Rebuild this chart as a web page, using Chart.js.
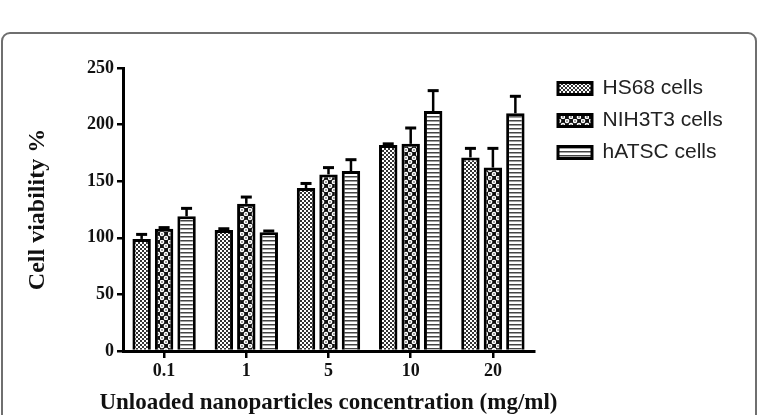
<!DOCTYPE html>
<html><head><meta charset="utf-8">
<script src="https://cdn.jsdelivr.net/npm/chart.js@4/dist/chart.umd.min.js"></script>
<style>
html,body{margin:0;padding:0;background:#fff;width:758px;height:415px;overflow:hidden;}
#frame{position:absolute;left:1px;top:32px;width:756px;height:420px;border:2px solid #6f6f6f;border-radius:9px;box-sizing:border-box;}
#wrap{position:absolute;left:0;top:0;width:758px;height:415px;}
</style></head>
<body>
<div id="frame"></div>
<div id="wrap"><canvas id="c" width="758" height="415"></canvas></div>
<script>
const categories = ['0.1', '1', '5', '10', '20'];
const seriesNames = ['HS68 cells', 'NIH3T3 cells', 'hATSC cells'];
const hs68 = [99, 107, 144, 182, 171];
const hs68Err = [4, 1, 4, 1, 8];
const nih3t3 = [108, 130, 156, 183, 162];
const nih3t3Err = [1, 6, 6, 14, 17];
const hatsc = [119, 105, 159, 212, 210];
const hatscErr = [7, 1, 10, 18, 15];
const yTicks = [0, 50, 100, 150, 200, 250];

function makePattern(kind) {
  const t = document.createElement('canvas');
  const g = t.getContext('2d');
  if (kind === 'fine') {
    t.width = 4; t.height = 4;
    g.fillStyle = '#fff'; g.fillRect(0, 0, 4, 4);
    g.fillStyle = '#333'; g.fillRect(0, 0, 2, 2); g.fillRect(2, 2, 2, 2);
  } else if (kind === 'circles') {
    t.width = 8; t.height = 8;
    g.fillStyle = '#111'; g.fillRect(0, 0, 8, 8);
    g.fillStyle = '#fff';
    g.beginPath(); g.arc(2, 2, 2.3, 0, Math.PI * 2); g.fill();
    g.beginPath(); g.arc(6, 6, 2.3, 0, Math.PI * 2); g.fill();
    g.fillStyle = '#333';
    g.beginPath(); g.arc(2, 2, 0.8, 0, Math.PI * 2); g.fill();
    g.beginPath(); g.arc(6, 6, 0.8, 0, Math.PI * 2); g.fill();
  } else {
    t.width = 4; t.height = 4;
    g.fillStyle = '#fff'; g.fillRect(0, 0, 4, 4);
    g.fillStyle = '#444'; g.fillRect(0, 0, 4, 1.5);
  }
  return g.createPattern(t, 'repeat');
}

const errors = [hs68Err, nih3t3Err, hatscErr];

const errorBarPlugin = {
  id: 'errorBars',
  afterDatasetsDraw(chart) {
    const ctx = chart.ctx;
    const y = chart.scales.y;
    ctx.save();
    ctx.strokeStyle = '#000';
    chart.data.datasets.forEach((ds, i) => {
      const meta = chart.getDatasetMeta(i);
      meta.data.forEach((el, j) => {
        const top = y.getPixelForValue(ds.data[j] + errors[i][j]);
        ctx.lineWidth = 2.5;
        ctx.beginPath(); ctx.moveTo(el.x, el.y); ctx.lineTo(el.x, top); ctx.stroke();
        ctx.lineWidth = 3;
        ctx.beginPath(); ctx.moveTo(el.x - 5.5, top); ctx.lineTo(el.x + 5.5, top); ctx.stroke();
      });
    });
    ctx.restore();
  }
};

// keep the legend box at a fixed width and nudge its drawing position;
// let the x-axis title run wider than the axis (as in the reference)
const layoutTweaks = {
  id: 'layoutTweaks',
  afterInit(chart) {
    const lg = chart.legend;
    if (!lg) return;
    const origFit = lg.fit.bind(lg);
    lg.fit = function () { origFit(); this.width = 224; };
    const origDraw = lg.draw.bind(lg);
    lg.draw = function () {
      const ctx = this.ctx;
      ctx.save(); ctx.translate(13, -1); origDraw(); ctx.restore();
    };
  },
  afterUpdate(chart) {
    const s = chart.scales.x;
    if (!s || s._wideTitle) return;
    s._wideTitle = true;
    const orig = s.drawTitle.bind(s);
    s.drawTitle = function () {
      const l = this.left, r = this.right;
      this.left = l - 60; this.right = r + 60;
      orig();
      this.left = l; this.right = r;
    };
  }
};

const serif = "'Liberation Serif', 'Times New Roman', serif";
const sans = "'Liberation Sans', Arial, sans-serif";

new Chart(document.getElementById('c'), {
  type: 'bar',
  data: {
    labels: categories,
    datasets: [
      { label: seriesNames[0], data: hs68, backgroundColor: makePattern('fine'), borderColor: '#000', borderWidth: 3 },
      { label: seriesNames[1], data: nih3t3, backgroundColor: makePattern('circles'), borderColor: '#000', borderWidth: 3 },
      { label: seriesNames[2], data: hatsc, backgroundColor: makePattern('stripes'), borderColor: '#000', borderWidth: 3 }
    ]
  },
  options: {
    responsive: false,
    animation: false,
    events: [],
    layout: { padding: { top: 68, left: 0, right: 0, bottom: 0 } },
    datasets: { bar: { categoryPercentage: 0.82, barPercentage: 0.82 } },
    plugins: {
      legend: {
        position: 'right',
        align: 'start',
        labels: {
          boxWidth: 34, boxHeight: 12, padding: 11,
          color: '#222',
          font: { family: sans, size: 21 }
        }
      },
      tooltip: { enabled: false }
    },
    scales: {
      x: {
        grid: { display: true, drawOnChartArea: false, drawTicks: true, tickLength: 7, offset: false, color: '#000', lineWidth: 2.5 },
        border: { display: true, color: '#000', width: 3 },
        ticks: { color: '#111', padding: 3, font: { family: serif, size: 18, weight: 'bold' } },
        title: { display: true, text: 'Unloaded nanoparticles concentration (mg/ml)', color: '#111', padding: 0,
                 font: { family: serif, size: 23, weight: 'bold', lineHeight: 1 } },
        afterFit(s) { s.height = 64; }
      },
      y: {
        min: 0, max: 250,
        afterBuildTicks(s) { s.ticks = yTicks.map(v => ({ value: v })); },
        grid: { display: true, drawOnChartArea: false, drawTicks: true, tickLength: 6, color: '#000', lineWidth: 2.5 },
        border: { display: true, color: '#000', width: 3 },
        ticks: { color: '#111', padding: 3, font: { family: serif, size: 18, weight: 'bold' } },
        title: { display: true, text: 'Cell viability %', color: '#111', padding: { top: 26, bottom: 0 },
                 font: { family: serif, size: 24, weight: 'bold', lineHeight: 1 } },
        afterFit(s) { s.width = 123; }
      }
    }
  },
  plugins: [errorBarPlugin, layoutTweaks]
});
</script>
</body></html>
